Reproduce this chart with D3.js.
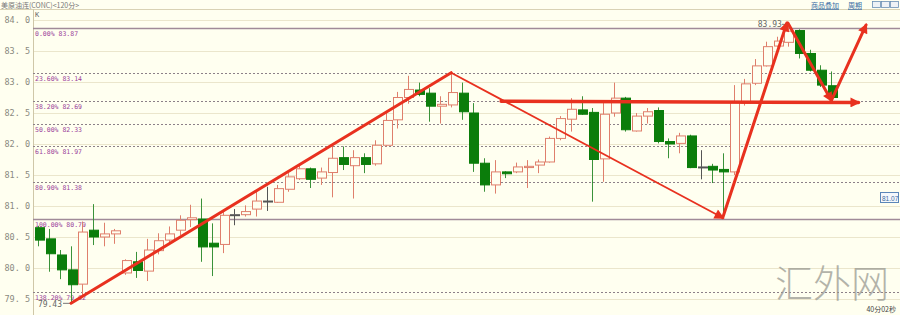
<!DOCTYPE html>
<html>
<head>
<meta charset="utf-8">
<script src="https://cdn.jsdelivr.net/npm/d3@7"></script>
<style>
  body { margin: 0; background: #fffff0; }
  svg { display: block; }
</style>
</head>
<body>
<script>
// 120-minute bars
const opens  = [80.65,80.47,80.21,79.97,79.74,80.61,80.50,80.55,79.92,80.10,79.95,80.28,80.45,80.61,80.78,80.79,80.40,80.38,80.85,80.86,
                80.95,81.07,81.06,81.27,81.44,81.60,81.45,81.54,81.78,81.65,81.78,81.68,81.98,82.39,82.75,82.87,82.82,82.61,82.63,82.82,
                82.50,81.69,81.34,81.55,81.55,81.62,81.66,81.71,82.09,82.40,82.55,82.51,81.76,82.50,82.74,82.21,82.45,82.54,82.04,82.01,
                82.13,81.63,81.64,81.59,81.55,82.66,82.98,83.26,83.58,83.64,83.83,83.46,83.19,82.94];
const highs  = [80.68,80.63,80.29,80.35,80.75,81.03,80.73,80.63,80.14,80.26,80.47,80.56,80.67,80.85,81.02,81.12,80.72,80.92,80.95,81.01,
                81.23,81.31,81.34,81.53,81.66,81.62,81.62,81.97,81.96,81.90,81.85,82.06,82.50,82.84,83.10,82.99,82.90,82.77,83.15,82.99,
                82.66,81.77,81.74,81.56,81.70,81.74,81.75,82.12,82.45,82.74,82.77,82.58,82.66,82.99,82.76,82.50,82.58,82.59,82.09,82.18,
                82.15,81.90,81.68,81.85,82.95,83.05,83.37,83.65,83.73,83.93,83.85,83.52,83.27,83.17];
const lows   = [80.35,79.94,79.82,79.43,79.53,80.37,80.35,80.39,79.89,79.84,79.79,80.22,80.37,80.53,80.66,80.10,79.87,80.24,80.69,80.83,
                80.83,80.92,81.05,81.23,81.42,81.29,81.34,81.14,81.58,81.12,81.53,81.65,81.96,82.25,82.65,82.77,82.36,82.33,82.59,82.39,
                81.55,81.23,81.20,81.45,81.53,81.29,81.53,81.70,82.06,82.20,82.47,81.07,81.39,82.44,82.20,82.20,82.33,82.01,81.77,81.85,
                81.61,81.43,81.37,80.83,81.50,82.62,82.95,83.25,83.57,83.57,83.38,83.17,82.92,82.72];
const closes = [80.45,80.23,79.97,79.73,80.58,80.50,80.55,80.60,80.12,79.96,80.29,80.44,80.55,80.77,80.81,80.34,80.34,80.85,80.86,80.91,
                81.08,81.08,81.28,81.47,81.60,81.43,81.55,81.77,81.67,81.78,81.67,81.98,82.38,82.75,82.88,82.80,82.61,82.64,82.83,82.52,
                81.69,81.34,81.55,81.52,81.63,81.64,81.71,82.09,82.41,82.56,82.48,81.75,82.48,82.74,82.23,82.45,82.52,82.04,82.00,82.13,
                81.62,81.63,81.58,81.55,82.68,82.97,83.26,83.57,83.66,83.82,83.46,83.19,82.95,82.75];

const yTicks = [79.5, 80.0, 80.5, 81.0, 81.5, 82.0, 82.5, 83.0, 83.5, 84.0];

// fibonacci retracement levels
const fibPct   = ["0.00%", "23.60%", "38.20%", "50.00%", "61.80%", "80.90%", "100.00%", "138.20%"];
const fibPrice = [83.87, 83.14, 82.69, 82.33, 81.97, 81.38, 80.79, 79.62];
const fibSolid = [true, false, false, false, false, false, true, false];

// hand-drawn arrows, as [bar index, price] pairs
const trendUp    = [[3, 79.43], [38, 83.15]];
const trendDown  = [[38, 83.15], [63, 80.81]];
const arrowUp1   = [[63, 80.81], [68.9, 83.95]];
const arrowFlat  = [[42.6, 82.69], [75.5, 82.67]];
const arrowDown2 = [[69, 83.95], [73, 82.70]];
const arrowUp2   = [[73, 82.70], [76.2, 83.92]];

const W = 900, H = 315;
const plotLeft = 33, plotTop = 9;
const slots = 80;

const svg = d3.select("body").append("svg")
  .attr("width", W).attr("height", H)
  .style("font-family", "'DejaVu Sans Mono', monospace");

svg.append("rect").attr("width", W).attr("height", H).attr("fill", "#fffff0");

const x = d3.scaleBand()
  .domain(d3.range(slots))
  .range([plotLeft, plotLeft + slots * 10.886])
  .padding(0.18);

const y = d3.scaleLinear().domain([79.5, 84]).range([299, 20]);

const xc = i => plotLeft + (i + 0.5) * x.step();

// header
svg.append("line").attr("x1", 0).attr("x2", W).attr("y1", plotTop + 0.5).attr("y2", plotTop + 0.5)
  .attr("stroke", "#d9d2b4");
svg.append("text").attr("x", 1).attr("y", 8).attr("font-size", 7).attr("fill", "#777")
  .style("font-family", "'Noto Sans CJK SC', sans-serif").text("美原油连(CONC)<120分>");
svg.append("text").attr("x", 35).attr("y", 17).attr("font-size", 7).attr("fill", "#666").text("K");
const links = [["商品叠加", 811], ["周期", 848]];
links.forEach(([t, px]) => {
  svg.append("text").attr("x", px).attr("y", 8).attr("font-size", 7).attr("fill", "#3a6ea5")
    .style("font-family", "'Noto Sans CJK SC', sans-serif").style("text-decoration", "underline").text(t);
});
[872, 881, 890].forEach(px => {
  svg.append("rect").attr("x", px + 0.5).attr("y", 1.5).attr("width", 8).attr("height", 6)
    .attr("fill", "#eef2f6").attr("stroke", "#6a8fb5").attr("stroke-width", 0.8);
});

// grid + axis
svg.append("g").selectAll("line").data(yTicks).join("line")
  .attr("x1", plotLeft).attr("x2", W)
  .attr("y1", d => Math.round(y(d)) + 0.5).attr("y2", d => Math.round(y(d)) + 0.5)
  .attr("stroke", "#ebe6cc").attr("stroke-width", 1);

svg.append("line").attr("x1", plotLeft + 0.5).attr("x2", plotLeft + 0.5).attr("y1", plotTop).attr("y2", H)
  .attr("stroke", "#cfc7a8");

svg.append("g").selectAll("text").data(yTicks).join("text")
  .attr("x", 30).attr("y", d => y(d) + 3)
  .attr("text-anchor", "end").attr("font-size", 8.5).attr("fill", "#8a8a80")
  .text(d => d.toFixed(1).replace(".", ". "));

// fib levels
const fib = svg.append("g");
fib.selectAll("line").data(fibPrice).join("line")
  .attr("x1", plotLeft).attr("x2", W)
  .attr("y1", d => Math.round(y(d)) + 0.5).attr("y2", d => Math.round(y(d)) + 0.5)
  .attr("stroke", (d, i) => fibSolid[i] ? "#a08a98" : "#8c8088")
  .attr("stroke-width", (d, i) => fibSolid[i] ? 1.5 : 1)
  .attr("stroke-dasharray", (d, i) => fibSolid[i] ? null : "2,2");
fib.selectAll("text").data(fibPrice).join("text")
  .attr("x", 35).attr("y", d => y(d) + 8)
  .attr("font-size", 6.5).attr("fill", "#9b3f9b")
  .text((d, i) => fibPct[i] + " " + d.toFixed(2));

// candles
const bars = d3.range(opens.length).map(i => ({
  i, o: opens[i], h: highs[i], l: lows[i], c: closes[i]
}));
const isDoji = d => Math.abs(d.c - d.o) < 0.015;
const isDown = d => d.c < d.o && !isDoji(d);
const colour = d => isDoji(d) ? "#555" : (d.c >= d.o ? "#df7f6c" : "#0b7d0b");

const cg = svg.append("g");
cg.selectAll("line.wick").data(bars).join("line")
  .attr("class", "wick")
  .attr("x1", d => Math.round(xc(d.i)) + 0.5).attr("x2", d => Math.round(xc(d.i)) + 0.5)
  .attr("y1", d => y(d.h)).attr("y2", d => y(d.l))
  .attr("stroke", d => isDown(d) ? "#3a923a" : colour(d));
cg.selectAll("rect").data(bars).join("rect")
  .attr("x", d => Math.round(x(d.i)) + 0.5)
  .attr("width", Math.round(x.bandwidth()))
  .attr("y", d => y(Math.max(d.o, d.c)))
  .attr("height", d => Math.max(1, Math.abs(y(d.o) - y(d.c))))
  .attr("fill", d => isDown(d) ? "#0b7d0b" : "#fffff0")
  .attr("stroke", colour)
  .attr("stroke-width", 1);

// extreme labels
const lowBar = bars[d3.minIndex(lows)], highBar = bars[d3.maxIndex(highs)];
svg.append("line").attr("x1", xc(lowBar.i) - 8).attr("x2", xc(lowBar.i))
  .attr("y1", y(lowBar.l)).attr("y2", y(lowBar.l)).attr("stroke", "#777");
svg.append("text").attr("x", xc(lowBar.i) - 9).attr("y", y(lowBar.l) + 4)
  .attr("text-anchor", "end").attr("font-size", 8).attr("fill", "#666").text(lowBar.l.toFixed(2));
svg.append("line").attr("x1", xc(highBar.i) - 6).attr("x2", xc(highBar.i))
  .attr("y1", y(highBar.h)).attr("y2", y(highBar.h)).attr("stroke", "#777");
svg.append("text").attr("x", xc(highBar.i) - 6).attr("y", y(highBar.h) + 3)
  .attr("text-anchor", "end").attr("font-size", 8).attr("fill", "#666").text(highBar.h.toFixed(2));

// arrows
const defs = svg.append("defs");
defs.append("marker").attr("id", "head")
  .attr("viewBox", "0 0 10 10").attr("refX", 8).attr("refY", 5)
  .attr("markerWidth", 13).attr("markerHeight", 10)
  .attr("markerUnits", "userSpaceOnUse").attr("orient", "auto")
  .append("path").attr("d", "M0,0 L10,5 L0,10 Z").attr("fill", "#e8311f");

const line = d3.line().x(d => xc(d[0])).y(d => y(d[1]));
const arrows = [
  { pts: trendUp, w: 3, head: false },
  { pts: trendDown, w: 1.8, head: true },
  { pts: arrowUp1, w: 3, head: true },
  { pts: arrowFlat, w: 3.5, head: true },
  { pts: arrowDown2, w: 3, head: true },
  { pts: arrowUp2, w: 3, head: true }
];
svg.append("g").selectAll("path").data(arrows).join("path")
  .attr("d", d => line(d.pts))
  .attr("fill", "none").attr("stroke", "#e8311f")
  .attr("stroke-width", d => d.w).attr("stroke-linecap", "round")
  .attr("marker-end", d => d.head ? "url(#head)" : null);

// right price tag
svg.append("rect").attr("x", 880.5).attr("y", 192.5).attr("width", 18).attr("height", 10)
  .attr("fill", "#f4f8fc").attr("stroke", "#5b86b8");
svg.append("text").attr("x", 882).attr("y", 200.5).attr("font-size", 6.5)
  .style("font-family", "'Liberation Sans', sans-serif")
  .attr("fill", "#3d6a9e").text("81.07");

// watermark + timer
svg.append("text").attr("x", 832).attr("y", 297).attr("text-anchor", "middle")
  .attr("font-size", 38).attr("fill", "#9a9a92").attr("opacity", 0.75)
  .style("font-family", "'Noto Sans CJK SC', sans-serif").style("font-weight", 300)
  .text("汇外网");
svg.append("text").attr("x", 896).attr("y", 312).attr("text-anchor", "end")
  .attr("font-size", 7).attr("fill", "#444")
  .style("font-family", "'Noto Sans CJK SC', sans-serif").text("40分02秒");
</script>
</body>
</html>
